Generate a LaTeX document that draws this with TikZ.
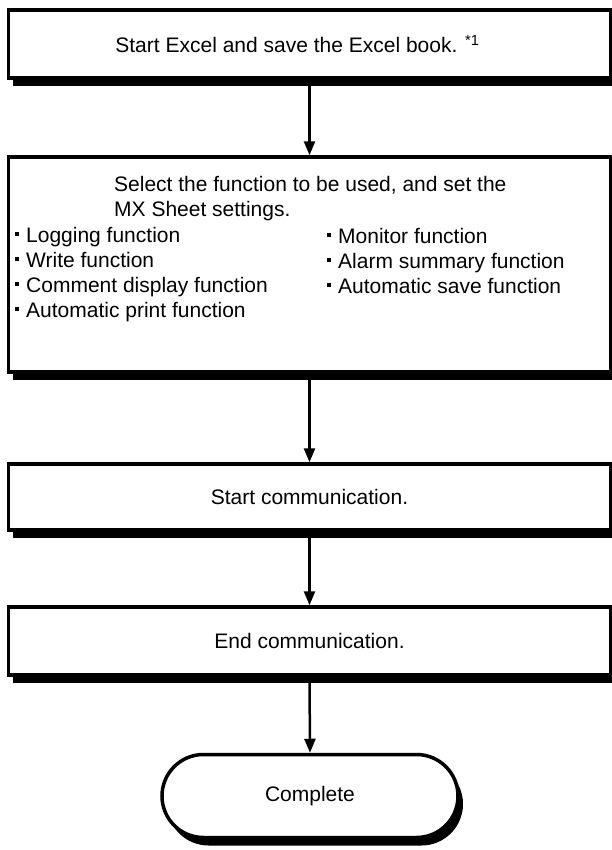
\documentclass[tikz,border=0pt]{standalone}
\usepackage{fontspec}
\setmainfont{Liberation Sans}
\usetikzlibrary{arrows.meta,shapes.misc,shadows}
\newcommand\itembullet{\rule[6.5bp]{4bp}{4bp}\hspace{7bp}}
\begin{document}
\begin{tikzpicture}[x=1bp,y=-1bp,
  every node/.style={font=\fontsize{21bp}{25bp}\selectfont, inner sep=0pt},
  boxshadow/.style={drop shadow={shadow xshift=5bp, shadow yshift=-8bp, fill=black, opacity=1}},
  procbox/.style={draw, line width=3.5bp, fill=white, minimum width=602bp, boxshadow},
  termbox/.style={rounded rectangle, draw, line width=3.5bp, fill=white, minimum width=296bp, minimum height=83bp, boxshadow},
  flow/.style={line width=2.5bp, -{Triangle[width=11bp,length=14bp]}},
  itemtext/.style={anchor=base west},
]
\useasboundingbox (0,0) rectangle (612,850);
\clip (0,0) rectangle (612,850);

\node[procbox, minimum height=68bp] (b1) at (309.5,44) {Start Excel and save the Excel book. \textsuperscript{*1}\hspace*{24bp}};

\node[procbox, minimum height=215bp] (b2) at (309.5,264.5) {};
\node[itemtext] (t1) at (114,191) {Select the function to be used, and set the};
\node[itemtext] (t2) at (114,216) {MX Sheet settings.};
\node[itemtext] (l1) at (15,242) {\itembullet Logging function};
\node[itemtext] (l2) at (15,267) {\itembullet Write function};
\node[itemtext] (l3) at (15,292) {\itembullet Comment display function};
\node[itemtext] (l4) at (15,317) {\itembullet Automatic print function};
\node[itemtext] (r1) at (327,243) {\itembullet Monitor function};
\node[itemtext] (r2) at (327,268) {\itembullet Alarm summary function};
\node[itemtext] (r3) at (327,293) {\itembullet Automatic save function};

\node[procbox, minimum height=66bp] (b3) at (309.5,497) {Start communication.};
\node[procbox, minimum height=68bp] (b4) at (309.5,641) {End communication.};
\node[termbox] (c) at (310,796) {Complete};

\draw[flow] (b1.south) -- (b2.north);
\draw[flow] (b2.south) -- (b3.north);
\draw[flow] (b3.south) -- (b4.north);
\draw[flow] (b4.south) -- (c.north);
\end{tikzpicture}
\end{document}
